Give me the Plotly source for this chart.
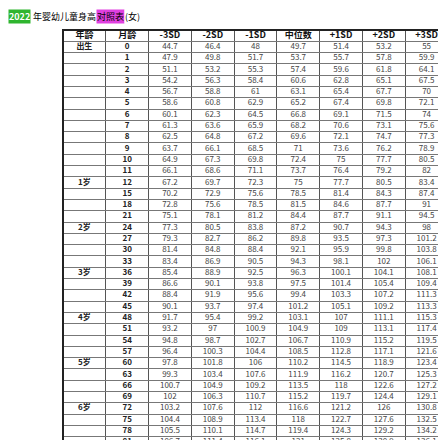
import plotly.graph_objects as go

W, H = 446, 440

age = ["出生", "", "", "", "", "", "", "", "", "", "", "", "1岁", "", "", "", "2岁", "", "", "",
       "3岁", "", "", "", "4岁", "", "", "", "5岁", "", "", "", "6岁", "", "", ""]
months = [0, 1, 2, 3, 4, 5, 6, 7, 8, 9, 10, 11, 12, 15, 18, 21, 24, 27, 30, 33,
          36, 39, 42, 45, 48, 51, 54, 57, 60, 63, 66, 69, 72, 75, 78, 81]
sd_m3 = [44.7, 47.9, 51.1, 54.2, 56.7, 58.6, 60.1, 61.3, 62.5, 63.7, 64.9, 66.1, 67.2, 70.2, 72.8, 75.1,
         77.3, 79.3, 81.4, 83.4, 85.4, 86.6, 88.4, 90.1, 91.7, 93.2, 94.8, 96.4, 97.8, 99.3, 100.7, 102,
         103.2, 104.4, 105.5, 106.7]
sd_m2 = [46.4, 49.8, 53.2, 56.3, 58.8, 60.8, 62.3, 63.6, 64.8, 66.1, 67.3, 68.6, 69.7, 72.9, 75.6, 78.1,
         80.5, 82.7, 84.8, 86.9, 88.9, 90.1, 91.9, 93.7, 95.4, 97, 98.7, 100.3, 101.8, 103.4, 104.9, 106.3,
         107.6, 108.9, 110.1, 111.4]
sd_m1 = [48, 51.7, 55.3, 58.4, 61, 62.9, 64.5, 65.9, 67.2, 68.5, 69.8, 71.1, 72.3, 75.6, 78.5, 81.2,
         83.8, 86.2, 88.4, 90.5, 92.5, 93.8, 95.6, 97.4, 99.2, 100.9, 102.7, 104.4, 106, 107.6, 109.2, 110.7,
         112, 113.4, 114.7, 116.1]
median = [49.7, 53.7, 57.4, 60.6, 63.1, 65.2, 66.8, 68.2, 69.6, 71, 72.4, 73.7, 75, 78.5, 81.5, 84.4,
          87.2, 89.8, 92.1, 94.3, 96.3, 97.5, 99.4, 101.2, 103.1, 104.9, 106.7, 108.5, 110.2, 111.9, 113.5, 115.2,
          116.6, 118, 119.4, 121]
sd_p1 = [51.4, 55.7, 59.6, 62.8, 65.4, 67.4, 69.1, 70.6, 72.1, 73.6, 75, 76.4, 77.7, 81.4, 84.6, 87.7,
         90.7, 93.5, 95.9, 98.1, 100.1, 101.4, 103.3, 105.1, 107, 109, 110.9, 112.8, 114.5, 116.2, 118, 119.7,
         121.2, 122.7, 124.3, 125.8]
sd_p2 = [53.2, 57.8, 61.8, 65.1, 67.7, 69.8, 71.5, 73.1, 74.7, 76.2, 77.7, 79.2, 80.5, 84.3, 87.7, 91.1,
         94.3, 97.3, 99.8, 102, 104.1, 105.4, 107.2, 109.2, 111.1, 113.1, 115.2, 117.1, 118.9, 120.7, 122.6, 124.4,
         126, 127.6, 129.2, 130.9]
sd_p3 = [55, 59.9, 64.1, 67.5, 70, 72.1, 74, 75.6, 77.3, 78.9, 80.5, 82, 83.4, 87.4, 91, 94.5,
         98, 101.2, 103.8, 106.1, 108.1, 109.4, 111.3, 113.3, 115.3, 117.4, 119.5, 121.6, 123.4, 125.3, 127.2, 129.1,
         130.8, 132.5, 134.2, 136.1]
headers = ["年龄", "月龄", "-3SD", "-2SD", "-1SD", "中位数", "+1SD", "+2SD", "+3SD"]

fnt = "SimSun, Noto Sans CJK SC, serif"
columns = [[f"<b>{a}</b>" for a in age], [f"<b>{m}</b>" for m in months],
           sd_m3, sd_m2, sd_m1, median, sd_p1, sd_p2, sd_p3]
n = len(months)
rows = list(range(n))

fig = go.Figure()
for c, (head, col) in enumerate(zip(headers, columns)):
    fig.add_trace(go.Scatter(
        x=[c] * (n + 1), y=[-1] + rows, mode="text",
        text=[f"<b>{head}</b>"] + [str(v) for v in col],
        textfont=dict(family=fnt, size=[9] + [8] * n,
                      color=["#111"] + (["#222"] * n if c < 2 else ["#444"] * n)),
        hoverinfo="skip", showlegend=False, cliponaxis=False))

fig.update_xaxes(range=[-0.5, len(headers) - 0.5], tickvals=[i + 0.5 for i in range(-1, len(headers))],
                 showgrid=True, gridcolor="#555", gridwidth=1, showticklabels=False,
                 zeroline=False, ticks="")
fig.update_yaxes(range=[n - 0.5, -1.5], tickvals=[i + 0.5 for i in range(-2, n)],
                 showgrid=True, gridcolor="#777", gridwidth=1, showticklabels=False,
                 zeroline=False, ticks="")

title_parts = [("2022", "#2fb52f", "white", 0), ("年婴幼儿童身高", "white", "black", 24),
               ("对照表", "#e040e0", "black", 88), ("(女)", "white", "black", 116)]
for txt, bg, col, x0 in title_parts:
    fig.add_annotation(text=f"<b>{txt}</b>" if txt == "2022" else txt, xref="paper", yref="paper",
                       x=(x0 - 55) / (W - 55 - 6), y=1 + 21 / (H - 22), xanchor="left", yanchor="top",
                       showarrow=False, bgcolor=bg, borderpad=0,
                       font=dict(family=fnt, size=9, color=col))

fig.update_layout(width=W, height=H, margin=dict(l=55, r=6, t=22, b=0),
                  paper_bgcolor="white", plot_bgcolor="white",
                  shapes=[dict(type="rect", xref="paper", yref="paper", x0=0, x1=1, y0=0, y1=1,
                               line=dict(color="#222", width=2))])
fig.write_html("out.html")
